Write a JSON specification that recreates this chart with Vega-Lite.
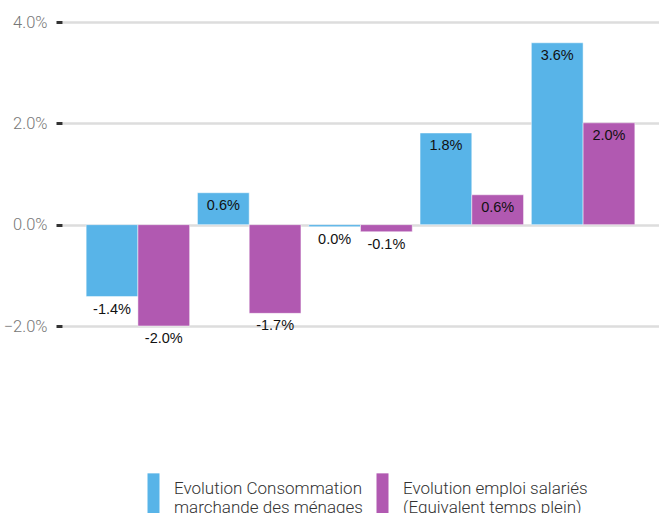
{
  "$schema": "https://vega.github.io/schema/vega-lite/v6.json",
  "width": 597,
  "height": 304,
  "autosize": {"type": "none"},
  "padding": {"left": 62, "top": 22, "right": 0, "bottom": 187},
  "background": "white",
  "config": {"view": {"stroke": null}},
  "data": {
    "values": [
      {"group": 1, "serie": "conso", "value": -1.42, "label": "-1.4%"},
      {"group": 1, "serie": "emploi", "value": -2.0, "label": "-2.0%"},
      {"group": 2, "serie": "conso", "value": 0.63, "label": "0.6%"},
      {"group": 2, "serie": "emploi", "value": -1.75, "label": "-1.7%"},
      {"group": 3, "serie": "conso", "value": -0.04, "label": "0.0%"},
      {"group": 3, "serie": "emploi", "value": -0.14, "label": "-0.1%"},
      {"group": 4, "serie": "conso", "value": 1.81, "label": "1.8%"},
      {"group": 4, "serie": "emploi", "value": 0.59, "label": "0.6%"},
      {"group": 5, "serie": "conso", "value": 3.59, "label": "3.6%"},
      {"group": 5, "serie": "emploi", "value": 2.01, "label": "2.0%"}
    ]
  },
  "encoding": {
    "x": {"field": "group", "type": "ordinal", "axis": null, "scale": {"paddingInner": 0.07, "paddingOuter": 0.217}},
    "xOffset": {"field": "serie", "type": "nominal", "scale": {"domain": ["conso", "emploi"]}},
    "y": {
      "field": "value", "type": "quantitative",
      "scale": {"domain": [-2, 4], "nice": false, "zero": false},
      "axis": {
        "title": null, "values": [-2, 0, 2, 4], "domain": false,
        "labelExpr": "format(datum.value, '.1f') + '%'",
        "labelFont": "Roboto", "labelFontSize": 16.5, "labelFontWeight": 300, "labelColor": "#777777",
        "labelPadding": 9, "tickColor": "#333333", "tickSize": 6, "tickWidth": 3,
        "gridColor": "#dddddd", "gridWidth": 2.5, "grid": true
      }
    }
  },
  "layer": [
    {
      "mark": {"type": "bar", "clip": false, "stroke": "white", "strokeWidth": 0.5},
      "encoding": {
        "color": {
          "field": "serie", "type": "nominal",
          "scale": {"domain": ["conso", "emploi"], "range": ["#58B4E8", "#B159B1"]},
          "legend": {
            "title": null, "orient": "none", "direction": "horizontal",
            "legendX": 83, "legendY": 463, "padding": 0,
            "symbolType": "M-1,-3.4h2v6.8h-2z", "symbolSize": 144,
            "symbolStrokeWidth": 0, "symbolOpacity": 1,
            "labelOffset": 12, "columnPadding": 11, "labelLimit": 400,
            "labelFont": "Roboto", "labelFontSize": 17, "labelFontWeight": 300, "labelColor": "#333333",
            "labelBaseline": "alphabetic", "labelLineHeight": 18,
            "labelExpr": "datum.label == 'conso' ? ['Evolution Consommation', 'marchande des ménages'] : ['Evolution emploi salariés', '(Equivalent temps plein)']"
          }
        }
      }
    },
    {
      "mark": {"type": "text", "dy": 13, "baseline": "middle", "font": "Liberation Sans", "fontSize": 14.5, "color": "#111111"},
      "encoding": {"text": {"field": "label"}}
    }
  ]
}
